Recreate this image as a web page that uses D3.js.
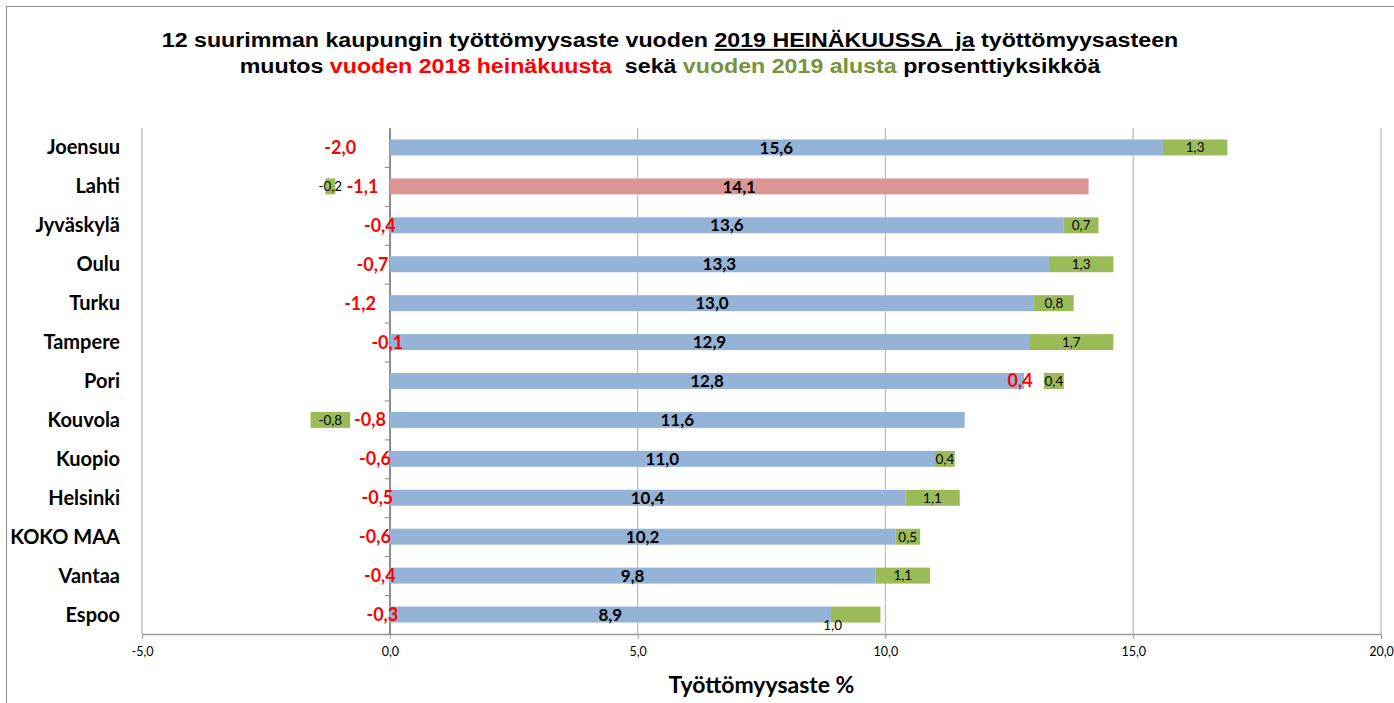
<!DOCTYPE html>
<html>
<head>
<meta charset="utf-8">
<script src="https://cdn.jsdelivr.net/npm/d3@7"></script>
<style>
  body { margin: 0; background: #fff; }
  svg { display: block; }
</style>
</head>
<body>
<svg id="canvas" width="1394" height="703"></svg>
<script>
var cities = ["Joensuu", "Lahti", "Jyväskylä", "Oulu", "Turku", "Tampere", "Pori",
	"Kouvola", "Kuopio", "Helsinki", "KOKO MAA", "Vantaa", "Espoo"];
var rate2019 = [15.6, 14.1, 13.6, 13.3, 13.0, 12.9, 12.8, 11.6, 11.0, 10.4, 10.2, 9.8, 8.9];
var change2018 = [-2.0, -1.1, -0.4, -0.7, -1.2, -0.1, 0.4, -0.8, -0.6, -0.5, -0.6, -0.4, -0.3];
var change2019 = [1.3, -0.2, 0.7, 1.3, 0.8, 1.7, 0.4, -0.8, 0.4, 1.1, 0.5, 1.1, 1.0];
var xTicks = [-5, 0, 5, 10, 15, 20];

var svg = d3.select("#canvas");
var fmt = function(v) { return d3.format(".1f")(v).replace(".", ",").replace("−", "-"); };

var x = d3.scaleLinear().domain([-5, 20]).range([142, 1381]);
var y = d3.scaleBand().domain(cities).range([128, 634]).paddingInner(0.59).paddingOuter(0.295);

// frame
svg.append("rect")
	.attr("x", 6.5).attr("y", 6.5)
	.attr("width", 1400).attr("height", 710)
	.attr("fill", "none").attr("stroke", "#8c8c8c");

// title (stretched a bit horizontally like the original)
var title = svg.append("text")
	.attr("transform", "translate(670,0) scale(1.16,1)")
	.attr("text-anchor", "middle")
	.attr("font-family", "Liberation Sans, Arial, sans-serif")
	.attr("font-weight", "bold")
	.attr("font-size", 20);

var l1 = title.append("tspan").attr("x", 0).attr("y", 47);
l1.append("tspan").text("12 suurimman kaupungin työttömyysaste vuoden ");
l1.append("tspan").attr("text-decoration", "underline").text("2019 HEINÄKUUSSA\u00a0 ja");
l1.append("tspan").text(" työttömyysasteen");

var l2 = title.append("tspan").attr("x", 0).attr("y", 73);
l2.append("tspan").text("muutos ");
l2.append("tspan").attr("fill", "#ff0000").text("vuoden 2018 heinäkuusta");
l2.append("tspan").text("\u00a0 sekä ");
l2.append("tspan").attr("fill", "#77933c").text("vuoden 2019 alusta");
l2.append("tspan").text(" prosenttiyksikköä");

// gridlines
svg.append("g")
	.selectAll("line")
	.data(xTicks)
	.enter().append("line")
	.attr("x1", function(d) { return x(d); })
	.attr("x2", function(d) { return x(d); })
	.attr("y1", 128).attr("y2", 634)
	.attr("stroke", function(d) { return d == 0 ? "#868686" : "#bfbfbf"; })
	.attr("stroke-width", 1.3);

// x axis
var xAxis = svg.append("g")
	.attr("transform", "translate(0,634)")
	.call(d3.axisBottom(x).tickValues(xTicks).tickFormat(fmt).tickSize(5).tickSizeOuter(0));
xAxis.select(".domain").attr("stroke", "#9a9a9a").attr("stroke-width", 1.3);
xAxis.selectAll(".tick line").attr("stroke", "#9a9a9a");
xAxis.selectAll(".tick text")
	.attr("y", 13)
	.attr("font-family", "Lato, sans-serif")
	.attr("font-size", 12.5)
	.attr("fill", "#000");

// category axis at 0
var yIdx = d3.scaleLinear().domain([0, cities.length]).range([128, 634]);
var yAxis = svg.append("g")
	.attr("transform", "translate(" + x(0) + ",0)")
	.call(d3.axisLeft(yIdx).tickValues(d3.range(1, cities.length + 1)).tickFormat("").tickSize(5).tickSizeOuter(0));
yAxis.select(".domain").attr("stroke", "#868686").attr("stroke-width", 1.3);
yAxis.selectAll(".tick line").attr("stroke", "#868686");

// category labels
svg.append("g")
	.selectAll("text")
	.data(cities)
	.enter().append("text")
	.attr("x", 120)
	.attr("y", function(d) { return y(d) + y.bandwidth() / 2; })
	.attr("dy", "0.35em")
	.attr("text-anchor", "end")
	.attr("font-family", "Lato, sans-serif")
	.attr("font-weight", "bold")
	.attr("font-size", 20)
	.text(function(d) { return d; });

// stack segments
var rows = cities.map(function(c, i) {
	var pos = rate2019[i], neg = 0, seg = {};
	seg.blue = [0, rate2019[i]];
	if (change2018[i] >= 0) { seg.red = [pos, pos + change2018[i]]; pos += change2018[i]; }
	else { seg.red = [neg, neg + change2018[i]]; neg += change2018[i]; }
	if (change2019[i] >= 0) { seg.green = [pos, pos + change2019[i]]; }
	else { seg.green = [neg, neg + change2019[i]]; }
	return { city: c, i: i, seg: seg };
});

var bh = y.bandwidth();

// blue (rate) bars
svg.append("g").selectAll("rect")
	.data(rows)
	.enter().append("rect")
	.attr("x", function(d) { return x(Math.min(d.seg.blue[0], d.seg.blue[1])); })
	.attr("y", function(d) { return y(d.city); })
	.attr("width", function(d) { return Math.abs(x(d.seg.blue[1]) - x(d.seg.blue[0])); })
	.attr("height", bh)
	.attr("fill", function(d) { return d.city == "Lahti" ? "#d99694" : "#95b3d7"; });

// green bars
svg.append("g").selectAll("rect")
	.data(rows)
	.enter().append("rect")
	.attr("x", function(d) { return x(Math.min(d.seg.green[0], d.seg.green[1])); })
	.attr("y", function(d) { return y(d.city); })
	.attr("width", function(d) { return Math.abs(x(d.seg.green[1]) - x(d.seg.green[0])); })
	.attr("height", bh)
	.attr("fill", "#9bbb59");

var mid = function(s) { return x((s[0] + s[1]) / 2); };

// blue labels
svg.append("g").selectAll("text")
	.data(rows)
	.enter().append("text")
	.attr("x", function(d) { return mid(d.seg.blue); })
	.attr("y", function(d) { return y(d.city) + bh / 2; })
	.attr("dy", "0.36em")
	.attr("text-anchor", "middle")
	.attr("font-family", "Lato, sans-serif")
	.attr("font-weight", "bold")
	.attr("font-size", 17)
	.text(function(d) { return fmt(rate2019[d.i]); });

// red labels (invisible segment)
svg.append("g").selectAll("text")
	.data(rows)
	.enter().append("text")
	.attr("x", function(d) { return mid(d.seg.red) - (change2018[d.i] > 0 ? 14 : 0); })
	.attr("y", function(d) { return y(d.city) + bh / 2; })
	.attr("dy", "0.36em")
	.attr("text-anchor", "middle")
	.attr("font-family", "Lato, sans-serif")
	.attr("font-weight", "bold")
	.attr("font-size", 18)
	.attr("fill", "#ff0000")
	.text(function(d) { return fmt(change2018[d.i]); });

// green labels
svg.append("g").selectAll("text")
	.data(rows)
	.enter().append("text")
	.attr("x", function(d) { return mid(d.seg.green) - (d.city == "Espoo" ? 23 : 0); })
	.attr("y", function(d) { return y(d.city) + bh / 2 + (d.city == "Espoo" ? 11 : 0); })
	.attr("dy", "0.36em")
	.attr("text-anchor", "middle")
	.attr("font-family", "Lato, sans-serif")
	.attr("font-size", 13.5)
	.attr("fill", "#000")
	.text(function(d) { return fmt(change2019[d.i]); });

// axis title
svg.append("text")
	.attr("x", x(7.5))
	.attr("y", 693)
	.attr("text-anchor", "middle")
	.attr("font-family", "Lato, sans-serif")
	.attr("font-weight", "bold")
	.attr("font-size", 23)
	.text("Työttömyysaste %");
</script>
</body>
</html>
